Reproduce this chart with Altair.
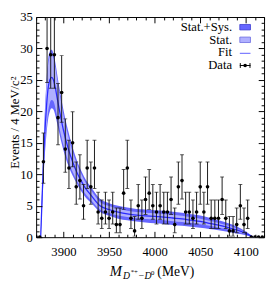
import altair as alt
import pandas as pd

# ---------------- data ----------------
bin_mev = list(range(3870, 4119, 4))  # 4 MeV bin centres
counts = [0, 0, 12, 30, 29, 29, 19, 23, 14, 11,
          15, 8, 9, 5, 11, 8, 11, 4, 3, 4,
          3, 4, 2, 2, 7, 11, 3, 1, 5, 3,
          6, 7, 5, 4, 5, 4, 4, 6, 2, 8,
          9, 4, 4, 3, 4, 8, 4, 8, 3, 3,
          3, 6, 3, 1, 1, 2, 5, 2, 3, 0,
          0, 0, 0]
# Poisson error-bar ends (lower, upper) per count
err_table = {0: (0, 0), 1: (0.17, 3.30), 2: (0.71, 4.64), 3: (1.37, 5.92),
             4: (2.09, 7.16), 5: (2.84, 8.38), 6: (3.62, 9.58), 7: (4.42, 10.77),
             8: (5.23, 11.95), 9: (6.06, 13.11), 11: (7.74, 15.41), 12: (8.59, 16.55),
             14: (10.31, 18.81), 15: (11.18, 19.94), 19: (14.69, 24.42),
             23: (18.26, 28.86), 29: (23.67, 35.46), 30: (24.58, 36.57)}

fit_mev = [3875, 3877, 3879, 3881, 3883, 3885, 3887, 3889, 3891, 3893,
           3895, 3897, 3900, 3905, 3910, 3915, 3920, 3925, 3930, 3940,
           3950, 3960, 3970, 3980, 3990, 4000, 4010, 4020, 4030, 4040,
           4050, 4060, 4070, 4080, 4090, 4100, 4105, 4108]
fit_val = [0, 8, 15, 20, 23.5, 25, 25.4, 25, 23.8, 22.2,
           20.6, 19.1, 17.0, 14.2, 12.0, 10.2, 8.8, 7.6, 6.7, 5.0,
           4.4, 4.0, 3.7, 3.5, 3.4, 3.3, 3.2, 3.05, 2.9, 2.7,
           2.5, 2.2, 1.9, 1.55, 1.15, 0.6, 0.25, 0]
stat_lo = [0, 6.5, 12.5, 16.8, 19.8, 21.3, 21.8, 21.6, 20.6, 19.2,
           17.8, 16.4, 14.6, 12.2, 10.4, 8.9, 7.7, 6.7, 5.9, 4.4,
           3.85, 3.45, 3.2, 3.0, 2.9, 2.8, 2.7, 2.55, 2.4, 2.25,
           2.05, 1.8, 1.55, 1.25, 0.9, 0.45, 0.15, 0]
stat_hi = [0, 9.5, 17.5, 23.2, 27.2, 28.7, 29.0, 28.4, 27.0, 25.2,
           23.4, 21.8, 19.4, 16.2, 13.6, 11.5, 9.9, 8.5, 7.5, 5.6,
           4.95, 4.55, 4.2, 4.0, 3.9, 3.8, 3.7, 3.55, 3.4, 3.15,
           2.95, 2.6, 2.25, 1.85, 1.4, 0.75, 0.35, 0]
sys_lo = [0, 6, 11.8, 15.8, 18.6, 20.0, 20.5, 20.3, 19.4, 18.1,
          16.8, 15.5, 13.8, 11.5, 9.8, 8.4, 7.2, 6.2, 5.5, 4.0,
          3.4, 2.95, 2.7, 2.5, 2.35, 2.2, 2.1, 1.95, 1.8, 1.65,
          1.5, 1.3, 1.1, 0.85, 0.6, 0.3, 0.1, 0]
sys_hi = [0, 10, 18, 24, 28, 29.5, 29.8, 29.2, 27.8, 26,
          24.2, 22.6, 20.2, 17, 14.3, 12.1, 10.4, 9.0, 8.0, 6.1,
          5.4, 5.0, 4.7, 4.5, 4.4, 4.3, 4.2, 4.05, 3.9, 3.65,
          3.45, 3.1, 2.7, 2.25, 1.7, 0.9, 0.4, 0]

x_label_vals = [3900, 3950, 4000, 4050, 4100]
y_label_vals = [0, 5, 10, 15, 20, 25, 30, 35]
x_tick_vals = list(range(3870, 4121, 10))
y_tick_vals = list(range(0, 36, 1))

# ---------------- styling ----------------
W, H = 235, 227
FONT = "Liberation Serif"
C_SYS = "#6666ff"
C_STAT = "#b0b0ff"
C_FIT = "#2a2aff"

data = pd.DataFrame({"m": bin_mev, "n": counts})
data["lo"] = [err_table[n][0] for n in counts]
data["hi"] = [err_table[n][1] for n in counts]
data_nz = data[data["n"] > 0]

fit = pd.DataFrame({"m": fit_mev, "f": fit_val, "slo": stat_lo, "shi": stat_hi,
                    "ylo": sys_lo, "yhi": sys_hi})

xs = alt.Scale(domain=[3870, 4120], nice=False, zero=False)
ys = alt.Scale(domain=[0, 35], nice=False)

tsx = {"condition": {"test": "datum.value % 50 === 0", "value": 6}, "value": 3}
tsy = {"condition": {"test": "datum.value % 5 === 0", "value": 6}, "value": 3}

ax_x_lab = alt.Axis(orient="bottom", values=x_label_vals, ticks=False, domain=False,
                    labelPadding=9, title=None, grid=False, format="d")
ax_y_lab = alt.Axis(orient="left", values=y_label_vals, ticks=False, domain=False,
                    labelPadding=4, title=None, grid=False, format="d")
ax_bot_in = alt.Axis(orient="top", offset=-H, values=x_tick_vals, labels=False,
                     domain=False, tickSize=tsx, title=None, grid=False, zindex=2)
ax_top_in = alt.Axis(orient="bottom", offset=-H, values=x_tick_vals, labels=False,
                     domain=False, tickSize=tsx, title=None, grid=False, zindex=2)
ax_left_in = alt.Axis(orient="right", offset=-W, values=y_tick_vals, labels=False,
                      domain=False, tickSize=tsy, title=None, grid=False, zindex=2)
ax_right_in = alt.Axis(orient="left", offset=-W, values=y_tick_vals, labels=False,
                       domain=False, tickSize=tsy, title=None, grid=False, zindex=2)

base_fit = alt.Chart(fit)

sys_band = base_fit.mark_area(color=C_SYS, opacity=1, clip=True, interpolate="monotone").encode(
    x=alt.X("m:Q", scale=xs, axis=ax_x_lab),
    y=alt.Y("ylo:Q", scale=ys, axis=ax_y_lab),
    y2="yhi:Q")
stat_band = base_fit.mark_area(color=C_STAT, opacity=1, clip=True, interpolate="monotone").encode(
    x=alt.X("m:Q", scale=xs, axis=ax_bot_in),
    y=alt.Y("slo:Q", scale=ys, axis=ax_left_in),
    y2="shi:Q")
fit_line = base_fit.mark_line(color=C_FIT, strokeWidth=1.3, clip=True, interpolate="monotone").encode(
    x=alt.X("m:Q", scale=xs, axis=ax_top_in),
    y=alt.Y("f:Q", scale=ys, axis=ax_right_in))

base_d = alt.Chart(data_nz)
err = base_d.mark_rule(color="#1a1a1a", strokeWidth=1, clip=True).encode(
    x=alt.X("m:Q", scale=xs, axis=None),
    y=alt.Y("lo:Q", scale=ys, axis=None),
    y2="hi:Q")
cap_lo = base_d.mark_tick(orient="horizontal", color="#1a1a1a", size=4, thickness=1, clip=True).encode(
    x=alt.X("m:Q", scale=xs, axis=None),
    y=alt.Y("lo:Q", scale=ys, axis=None))
cap_hi = base_d.mark_tick(orient="horizontal", color="#1a1a1a", size=4, thickness=1, clip=True).encode(
    x=alt.X("m:Q", scale=xs, axis=None),
    y=alt.Y("hi:Q", scale=ys, axis=None))
pts = alt.Chart(data).mark_circle(color="black", size=14, opacity=1, clip=True).encode(
    x=alt.X("m:Q", scale=xs, axis=None),
    y=alt.Y("n:Q", scale=ys, axis=None))

one = pd.DataFrame({"a": [0]})


def txt(s, x, y, size=13, align="right", style="normal", angle=0, baseline="middle"):
    kw = dict(text=s, font=FONT, fontSize=size, align=align, baseline=baseline,
              fontStyle=style, color="black")
    if angle:
        kw["angle"] = angle
    return alt.Chart(one).mark_text(**kw).encode(x=alt.value(x), y=alt.value(y))


# legend
LX0, LX1 = 210, 221
rows = [10.5, 23.5, 36.5, 49.5]
leg = [
    txt("Stat.+Sys.", 202, rows[0]),
    alt.Chart(one).mark_rect(color=C_SYS, stroke="#3a3ad0", strokeWidth=0.8).encode(
        x=alt.value(LX0), x2=alt.value(LX1), y=alt.value(rows[0] - 2.8), y2=alt.value(rows[0] + 2.8)),
    txt("Stat.", 202, rows[1]),
    alt.Chart(one).mark_rect(color=C_STAT, stroke="#6a6ae0", strokeWidth=0.8).encode(
        x=alt.value(LX0), x2=alt.value(LX1), y=alt.value(rows[1] - 2.8), y2=alt.value(rows[1] + 2.8)),
    txt("Fit", 202, rows[2]),
    alt.Chart(one).mark_rule(color="#8080ff", strokeWidth=1.3).encode(
        x=alt.value(LX0), x2=alt.value(LX1), y=alt.value(rows[2] + 1)),
    txt("Data", 202, rows[3]),
    alt.Chart(one).mark_rule(color="black", strokeWidth=1).encode(
        x=alt.value(LX0), x2=alt.value(LX1), y=alt.value(rows[3] + 0.5)),
    alt.Chart(one).mark_rule(color="black", strokeWidth=1).encode(
        x=alt.value(LX0 + 0.5), y=alt.value(rows[3] - 2), y2=alt.value(rows[3] + 3)),
    alt.Chart(one).mark_rule(color="black", strokeWidth=1).encode(
        x=alt.value(LX1 - 0.5), y=alt.value(rows[3] - 2), y2=alt.value(rows[3] + 3)),
    alt.Chart(one).mark_circle(color="black", size=14, opacity=1).encode(
        x=alt.value((LX0 + LX1) / 2), y=alt.value(rows[3] + 0.5)),
]

titles = [
    txt("Events / 4 MeV/c²", -22, 109, size=13, align="center", angle=270),
    txt("M", 76, 267, size=15, align="left", style="italic", baseline="alphabetic"),
    txt("D", 89.5, 270, size=10, align="left", style="italic", baseline="alphabetic"),
    txt("*+", 97.5, 264.5, size=7, align="left", baseline="alphabetic"),
    txt("\u2212D", 105, 270, size=10, align="left", style="italic", baseline="alphabetic"),
    txt("0", 118.5, 265.5, size=7, align="left", baseline="alphabetic"),
    txt("(MeV)", 125, 267, size=14, align="left", baseline="alphabetic"),
]

chart = alt.layer(sys_band, stat_band, fit_line, err, cap_lo, cap_hi, pts, *leg, *titles).resolve_axis(
    x="independent", y="independent"
).properties(
    width=W, height=H,
    autosize=alt.AutoSizeParams(type="none"),
    padding={"left": 29, "top": 5, "right": 2, "bottom": 45},
).configure_view(stroke="black", strokeWidth=1).configure_axis(
    labelFont=FONT, labelFontSize=13, labelColor="black", tickColor="black", tickWidth=1
)

chart.save("out.html", embed_options={"renderer": "svg", "actions": False})
